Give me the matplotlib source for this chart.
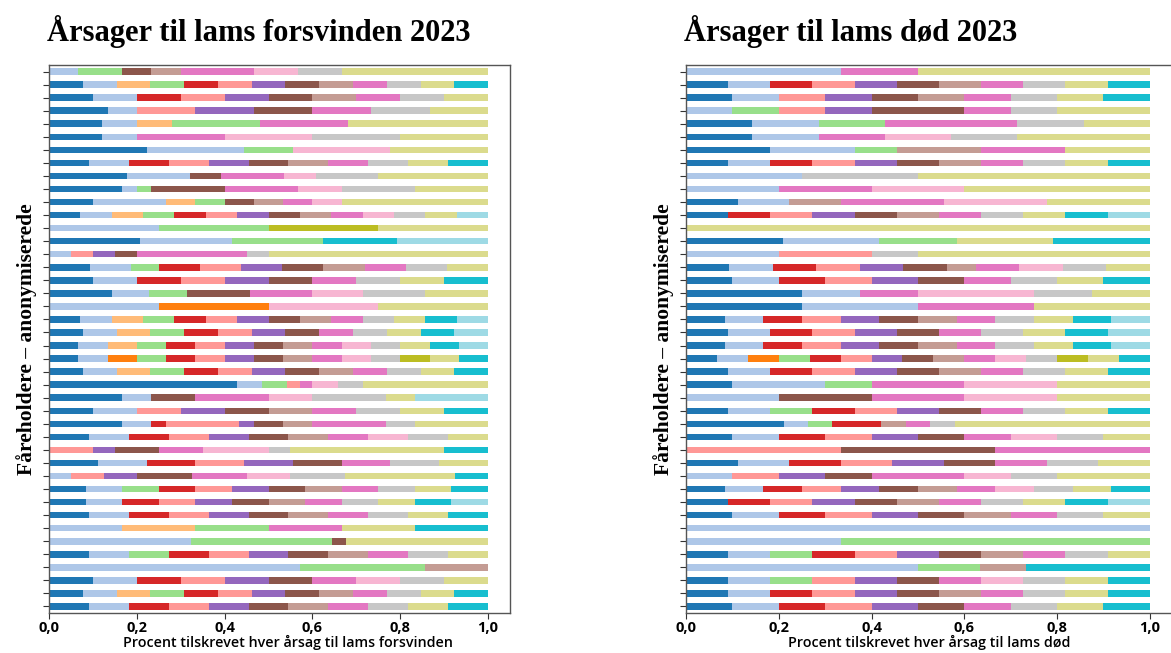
import numpy as np
import matplotlib
matplotlib.use('Agg')
import matplotlib.pyplot as plt
from matplotlib.ticker import FuncFormatter

# Cause colours (tab20 shades, in stacking order)
cause_colors = ['#1f77b4', '#aec7e8', '#ff7f0e', '#ffbb78', '#98df8a', '#d62728',
                '#ff9896', '#9467bd', '#8c564b', '#c49c94', '#e377c2', '#f7b6d2',
                '#c7c7c7', '#bcbd22', '#dbdb8d', '#17becf', '#9edae5']

# Weights per farm (top to bottom), one column per cause; normalised to 1 below
forsvinden = [
    [0, 2, 0, 0, 3, 0, 0, 0, 2, 2, 5, 3, 3, 0, 10, 0, 0],
    [1, 1, 0, 1, 1, 1, 1, 1, 1, 1, 1, 0, 1, 0, 1, 1, 0],
    [1, 1, 0, 0, 0, 1, 1, 1, 1, 1, 1, 0, 1, 0, 1, 0, 0],
    [2, 1, 0, 0, 0, 0, 2, 2, 2, 0, 2, 0, 2, 0, 2, 0, 0],
    [3, 2, 0, 2, 5, 0, 0, 0, 0, 0, 5, 0, 0, 0, 8, 0, 0],
    [3, 2, 0, 0, 0, 0, 0, 0, 0, 0, 5, 5, 5, 0, 5, 0, 0],
    [2, 2, 0, 0, 1, 0, 0, 0, 0, 0, 0, 2, 0, 0, 2, 0, 0],
    [1, 1, 0, 0, 0, 1, 1, 1, 1, 1, 1, 0, 1, 0, 1, 1, 0],
    [5, 4, 0, 0, 0, 0, 0, 0, 2, 0, 4, 2, 4, 0, 7, 0, 0],
    [5, 1, 0, 0, 1, 0, 0, 0, 5, 0, 5, 3, 5, 0, 5, 0, 0],
    [3, 5, 0, 2, 2, 0, 0, 0, 2, 2, 2, 2, 0, 0, 10, 0, 0],
    [1, 1, 0, 1, 1, 1, 1, 1, 1, 1, 1, 1, 1, 0, 1, 0, 1],
    [0, 1, 0, 0, 1, 0, 0, 0, 0, 0, 0, 0, 0, 1, 1, 0, 0],
    [5, 5, 0, 0, 5, 0, 0, 0, 0, 0, 0, 0, 0, 0, 0, 4, 5],
    [0, 1, 0, 0, 0, 0, 1, 1, 1, 0, 5, 0, 1, 0, 10, 0, 0],
    [3, 3, 0, 0, 2, 3, 3, 3, 3, 3, 3, 0, 3, 0, 3, 0, 0],
    [1, 1, 0, 0, 0, 1, 1, 1, 1, 0, 1, 0, 1, 0, 1, 1, 0],
    [5, 3, 0, 0, 3, 0, 0, 0, 5, 0, 5, 4, 5, 0, 5, 0, 0],
    [0, 1, 1, 0, 0, 0, 0, 0, 0, 0, 0, 1, 0, 0, 1, 0, 0],
    [1, 1, 0, 1, 1, 1, 1, 1, 1, 1, 1, 0, 1, 0, 1, 1, 1],
    [1, 1, 0, 1, 1, 1, 1, 1, 1, 0, 1, 0, 1, 0, 1, 1, 1],
    [1, 1, 0, 1, 1, 1, 1, 1, 1, 1, 1, 1, 1, 0, 1, 1, 1],
    [1, 1, 1, 0, 1, 1, 1, 1, 1, 1, 1, 1, 1, 1, 1, 1, 0],
    [1, 1, 0, 1, 1, 1, 1, 1, 1, 1, 1, 0, 1, 0, 1, 1, 0],
    [15, 2, 0, 0, 2, 0, 1, 0, 0, 0, 1, 2, 2, 0, 10, 0, 0],
    [5, 2, 0, 0, 0, 0, 0, 0, 3, 0, 5, 3, 5, 0, 2, 0, 5],
    [1, 1, 0, 0, 0, 0, 1, 1, 1, 1, 1, 0, 1, 0, 1, 1, 0],
    [5, 2, 0, 0, 0, 1, 5, 1, 2, 2, 5, 0, 2, 0, 5, 0, 0],
    [1, 1, 0, 0, 0, 1, 1, 1, 1, 1, 1, 1, 1, 0, 1, 0, 0],
    [0, 0, 0, 0, 0, 0, 2, 1, 2, 0, 2, 3, 1, 0, 7, 2, 0],
    [1, 1, 0, 0, 0, 1, 1, 1, 1, 0, 1, 0, 1, 0, 1, 0, 0],
    [0, 2, 0, 0, 0, 0, 3, 3, 5, 0, 5, 4, 5, 0, 10, 3, 0],
    [1, 1, 0, 0, 1, 1, 1, 1, 1, 1, 1, 0, 1, 0, 1, 1, 0],
    [1, 1, 0, 0, 0, 1, 1, 1, 1, 1, 1, 0, 1, 0, 1, 1, 1],
    [1, 1, 0, 0, 0, 1, 1, 1, 1, 1, 1, 0, 1, 0, 1, 1, 0],
    [0, 1, 0, 1, 1, 0, 0, 0, 0, 0, 1, 0, 0, 0, 1, 1, 0],
    [0, 10, 0, 0, 10, 0, 0, 0, 1, 0, 0, 0, 0, 0, 10, 0, 0],
    [1, 1, 0, 0, 1, 1, 1, 1, 1, 1, 1, 0, 1, 0, 1, 0, 0],
    [0, 4, 0, 0, 2, 0, 0, 0, 0, 1, 0, 0, 0, 0, 0, 0, 0],
    [1, 1, 0, 0, 0, 1, 1, 1, 1, 0, 1, 1, 1, 0, 1, 0, 0],
    [1, 1, 0, 1, 1, 1, 1, 1, 1, 1, 1, 0, 1, 0, 1, 1, 0],
    [1, 1, 0, 0, 0, 1, 1, 1, 1, 1, 1, 0, 1, 0, 1, 1, 0],
]

doed = [
    [0, 2, 0, 0, 0, 0, 0, 0, 0, 0, 1, 0, 0, 0, 3, 0, 0],
    [1, 1, 0, 0, 0, 1, 1, 1, 1, 1, 1, 0, 1, 0, 1, 1, 0],
    [1, 1, 0, 0, 0, 0, 1, 1, 1, 1, 1, 0, 1, 0, 1, 1, 0],
    [0, 1, 0, 0, 1, 0, 1, 1, 2, 0, 1, 0, 1, 0, 2, 0, 0],
    [1, 1, 0, 0, 1, 0, 0, 0, 0, 0, 2, 0, 1, 0, 1, 0, 0],
    [1, 1, 0, 0, 0, 0, 0, 0, 0, 0, 1, 1, 1, 0, 2, 0, 0],
    [2, 2, 0, 0, 1, 0, 0, 0, 0, 2, 2, 0, 0, 0, 2, 0, 0],
    [1, 1, 0, 0, 0, 1, 1, 1, 1, 1, 1, 0, 1, 0, 1, 1, 0],
    [0, 1, 0, 0, 0, 0, 0, 0, 0, 0, 0, 0, 1, 0, 2, 0, 0],
    [0, 1, 0, 0, 0, 0, 0, 0, 0, 0, 1, 1, 0, 0, 2, 0, 0],
    [1, 1, 0, 0, 0, 0, 0, 0, 0, 1, 2, 2, 0, 0, 2, 0, 0],
    [1, 0, 0, 0, 0, 1, 1, 1, 1, 1, 1, 0, 1, 0, 1, 1, 1],
    [0, 0, 0, 0, 0, 0, 0, 0, 0, 0, 0, 0, 0, 0, 1, 0, 0],
    [5, 5, 0, 0, 4, 0, 0, 0, 0, 0, 0, 0, 0, 0, 5, 5, 0],
    [0, 2, 0, 0, 0, 0, 2, 0, 0, 0, 0, 0, 1, 0, 5, 0, 0],
    [3, 3, 0, 0, 0, 3, 3, 3, 3, 2, 3, 3, 3, 0, 3, 0, 0],
    [1, 1, 0, 0, 0, 1, 1, 1, 1, 0, 1, 0, 1, 0, 1, 1, 0],
    [2, 1, 0, 0, 0, 0, 0, 0, 0, 0, 1, 2, 1, 0, 1, 0, 0],
    [1, 1, 0, 0, 0, 0, 0, 0, 0, 0, 1, 0, 0, 0, 1, 0, 0],
    [1, 1, 0, 0, 0, 1, 1, 1, 1, 1, 1, 0, 1, 0, 1, 1, 1],
    [1, 1, 0, 0, 0, 1, 1, 1, 1, 0, 1, 0, 1, 0, 1, 1, 1],
    [1, 1, 0, 0, 0, 1, 1, 1, 1, 1, 1, 0, 1, 0, 1, 1, 1],
    [1, 1, 1, 0, 1, 1, 1, 1, 1, 1, 1, 1, 1, 1, 1, 1, 0],
    [1, 1, 0, 0, 0, 1, 1, 1, 1, 1, 1, 0, 1, 0, 1, 1, 0],
    [1, 2, 0, 0, 1, 0, 0, 0, 0, 0, 2, 2, 0, 0, 2, 0, 0],
    [0, 1, 0, 0, 0, 0, 0, 0, 1, 0, 1, 1, 0, 0, 1, 0, 0],
    [1, 1, 0, 0, 1, 1, 1, 1, 1, 0, 1, 0, 1, 0, 1, 1, 0],
    [4, 1, 0, 0, 1, 2, 0, 0, 0, 1, 1, 0, 1, 0, 8, 0, 0],
    [1, 1, 0, 0, 0, 1, 1, 1, 1, 0, 1, 1, 1, 0, 1, 0, 0],
    [0, 0, 0, 0, 0, 0, 1, 0, 1, 0, 1, 0, 0, 0, 0, 0, 0],
    [1, 1, 0, 0, 0, 1, 1, 1, 1, 0, 1, 0, 1, 0, 1, 0, 0],
    [0, 1, 0, 0, 0, 0, 1, 1, 1, 0, 2, 1, 1, 0, 2, 0, 0],
    [1, 1, 0, 0, 0, 1, 1, 1, 1, 1, 1, 1, 1, 0, 1, 1, 0],
    [1, 0, 0, 0, 0, 1, 1, 1, 1, 1, 1, 0, 1, 0, 1, 1, 1],
    [1, 1, 0, 0, 0, 1, 1, 1, 1, 1, 1, 0, 1, 0, 1, 0, 0],
    [0, 1, 0, 0, 0, 0, 0, 0, 0, 0, 0, 0, 0, 0, 0, 0, 0],
    [0, 1, 0, 0, 2, 0, 0, 0, 0, 0, 0, 0, 0, 0, 0, 0, 0],
    [1, 1, 0, 0, 1, 1, 1, 1, 1, 1, 1, 0, 1, 0, 1, 0, 0],
    [0, 15, 0, 0, 4, 0, 0, 0, 0, 3, 0, 0, 0, 0, 0, 8, 0],
    [1, 1, 0, 0, 1, 0, 1, 1, 1, 0, 1, 1, 1, 0, 1, 1, 0],
    [1, 1, 0, 0, 0, 1, 1, 1, 1, 1, 1, 0, 1, 0, 1, 1, 0],
    [1, 1, 0, 0, 0, 1, 1, 1, 1, 0, 1, 0, 1, 0, 1, 1, 0],
]

titles = ['Årsager til lams forsvinden 2023', 'Årsager til lams død 2023']
xlabels = ['Procent tilskrevet hver årsag til lams forsvinden',
           'Procent tilskrevet hver årsag til lams død']
ylabel = 'Fåreholdere – anonymiserede'

SERIF = 'Liberation Serif'
SANS = 'Open Sans'

fig = plt.figure(figsize=(11.71, 6.53), dpi=100)
ax1 = fig.add_axes([49 / 1171, 40 / 653, 461 / 1171, 548 / 653])
ax2 = fig.add_axes([686 / 1171, 40 / 653, 487 / 1171, 548 / 653])

comma = FuncFormatter(lambda v, p: f'{v:.1f}'.replace('.', ','))

for ax, data, title, xlab in zip([ax1, ax2], [forsvinden, doed], titles, xlabels):
    vals = np.array(data, dtype=float)
    vals = vals / vals.sum(axis=1, keepdims=True)
    y = np.arange(len(vals))
    left = np.zeros(len(vals))
    for j, col in enumerate(cause_colors):
        ax.barh(y, vals[:, j], left=left, height=0.5, color=col, linewidth=0)
        left += vals[:, j]

    ax.set_xlim(0, 1.05)
    ax.set_ylim(len(vals) - 0.5, -0.5)
    ax.set_yticks(y)
    ax.set_yticklabels([])
    ax.set_xticks(np.arange(0, 1.01, 0.2))
    ax.xaxis.set_major_formatter(comma)
    ax.tick_params(axis='y', length=4, width=0.8, color='#333333')
    ax.tick_params(axis='x', length=4, width=0.8, color='#333333', pad=2)
    for lab in ax.get_xticklabels():
        lab.set_fontfamily(SANS)
        lab.set_fontweight('bold')
        lab.set_fontsize(10.5)
    for s in ax.spines.values():
        s.set_color('#555555')
        s.set_linewidth(1.0)

    ax.set_title(title, loc='left', fontfamily=SERIF, fontweight='bold',
                 fontsize=22, pad=17, x=-0.005)
    ax.set_xlabel(xlab, fontfamily=SANS, fontweight='semibold', fontsize=10.3, labelpad=0)
    ax.set_ylabel(ylabel, fontfamily=SERIF, fontweight='bold', fontsize=15.5, labelpad=1)

# left x label sits a little right of the axes centre in the original
ax1.xaxis.label.set_x(0.518)

fig.savefig('out.png', dpi=100)
